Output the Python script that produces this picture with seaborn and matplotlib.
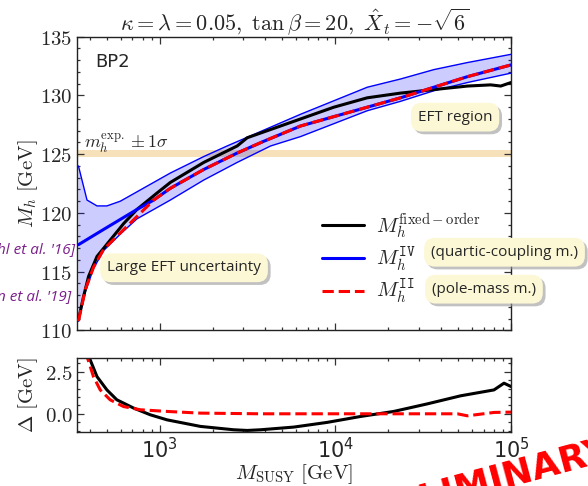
import numpy as np
import pandas as pd
import matplotlib
matplotlib.use("Agg")
import matplotlib.pyplot as plt
import matplotlib.patheffects as pe
from matplotlib.lines import Line2D
from matplotlib.ticker import FuncFormatter, MultipleLocator, LogLocator, NullFormatter
import seaborn as sns

# ---- values ----
m_fo = [345, 369, 394, 440, 524, 624, 743, 967, 1151, 1782, 2762, 3150, 6340, 9800,
        15200, 23500, 36400, 56500, 76600, 87400, 100000]
mh_fo = [110.9, 112.9, 114.6, 116.3, 117.7, 119.1, 120.3, 121.7, 122.6, 124.3, 125.7,
         126.4, 128.0, 129.0, 129.8, 130.2, 130.5, 130.8, 130.9, 130.8, 131.1]

m_ii = [345, 378, 421, 480, 597, 743, 925, 1151, 1782, 2762, 3915, 6340, 15200, 23500,
        36400, 56500, 100000]
mh_ii = [110.8, 113.5, 115.4, 116.9, 118.3, 119.7, 121.1, 122.1, 123.7, 125.1, 126.1,
         127.4, 129.0, 129.8, 130.7, 131.6, 132.6]

m_iv = [345, 480, 743, 925, 1151, 1782, 2762, 3915, 6340, 15200, 23500, 36400, 56500, 100000]
mh_iv = [117.3, 118.6, 120.3, 121.1, 122.1, 123.7, 125.1, 126.1, 127.4, 129.0, 129.8,
         130.7, 131.6, 132.6]

m_band_up = [345, 386, 440, 501, 597, 743, 1151, 1782, 2420, 6340, 15200, 23500, 36400,
             56500, 100000]
mh_band_up = [124.0, 121.1, 120.6, 120.6, 121.0, 121.8, 123.4, 124.8, 125.7, 128.4, 130.7,
              131.4, 132.2, 132.8, 133.5]

m_band_lo = [345, 378, 421, 480, 597, 743, 925, 1151, 1782, 2762, 4280, 6340, 15200, 23500,
             36400, 56500, 100000]
mh_band_lo = [110.8, 113.3, 115.3, 116.8, 118.2, 119.5, 120.3, 121.1, 122.8, 124.3, 125.7,
              126.5, 128.7, 129.5, 130.4, 131.1, 131.9]

# lower panel: Delta [GeV]
m_d_fo = [345, 399, 440, 501, 571, 711, 885, 1102, 1706, 2640, 3150, 3750, 5800, 9000,
          13900, 21500, 33400, 51700, 80000, 91200, 100000]
d_fo = [4.8, 3.3, 2.21, 1.42, 0.83, 0.34, -0.06, -0.36, -0.75, -0.95, -0.99, -0.95, -0.79,
        -0.51, -0.16, 0.14, 0.59, 1.07, 1.42, 1.82, 1.62]

m_d_ii = [345, 389, 420, 459, 523, 623, 776, 1102, 1706, 3750, 49500, 56400, 80000, 100000]
d_ii = [4.6, 3.3, 2.21, 1.42, 0.83, 0.43, 0.24, 0.14, 0.04, 0.0, 0.0, -0.12, 0.08, 0.1]

mh_exp_lo, mh_exp_hi = 124.8, 125.4

title = r"$\kappa = \lambda = 0.05,\ \tan\beta = 20,\ \hat{X}_t = -\sqrt{6}$"

# ---- style ----
sns.set_theme(style="ticks")
plt.rcParams["font.family"] = ["DejaVu Sans"]
plt.rcParams["mathtext.fontset"] = "cm"

fig = plt.figure(figsize=(5.88, 4.86), dpi=100)
ax1 = fig.add_axes([0.1315, 0.320, 0.7376, 0.6045])
ax2 = fig.add_axes([0.1315, 0.1105, 0.7376, 0.1523], sharex=ax1)

# uncertainty band of the quartic-coupling matching
band_x = np.r_[m_band_up, m_band_lo[::-1]]
band_y = np.r_[mh_band_up, mh_band_lo[::-1]]
ax1.fill(band_x, band_y, color="blue", alpha=0.2, lw=0, zorder=1)
sns.lineplot(x=m_band_up, y=mh_band_up, ax=ax1, color="blue", lw=1.0, estimator=None,
             sort=False, zorder=2)
sns.lineplot(x=m_band_lo, y=mh_band_lo, ax=ax1, color="blue", lw=1.0, estimator=None,
             sort=False, zorder=2)

ax1.axhspan(mh_exp_lo, mh_exp_hi, color="wheat", alpha=0.9, lw=0, zorder=0)
ax1.text(370, 125.5, r"$m_h^{\rm exp.} \pm 1\sigma$", fontsize=13, va="baseline", zorder=3)

sns.lineplot(x=m_fo, y=mh_fo, ax=ax1, color="black", lw=2.2, estimator=None, sort=False, zorder=3)
sns.lineplot(x=m_iv, y=mh_iv, ax=ax1, color="blue", lw=2.2, estimator=None, sort=False, zorder=4)
sns.lineplot(x=m_ii, y=mh_ii, ax=ax1, color="red", lw=2.2, ls="--", estimator=None,
             sort=False, zorder=5)

sns.lineplot(x=m_d_fo, y=d_fo, ax=ax2, color="black", lw=2.2, estimator=None, sort=False)
sns.lineplot(x=m_d_ii, y=d_ii, ax=ax2, color="red", lw=2.2, ls="--", estimator=None, sort=False)

for ax in (ax1, ax2):
    ax.set_xscale("log")
    ax.set_xlim(340, 1e5)
    ax.tick_params(which="both", direction="in", top=True, right=True, labelsize=15,
                   width=0.9, color="#333333")
    ax.tick_params(which="major", length=5)
    ax.tick_params(which="minor", length=2.5)
    ax.xaxis.set_major_locator(LogLocator(base=10))
    ax.xaxis.set_minor_locator(LogLocator(base=10, subs=np.arange(2, 10)))
    ax.xaxis.set_minor_formatter(NullFormatter())
    for s in ax.spines.values():
        s.set_linewidth(1.0)
        s.set_color("#222222")

ax1.set_ylim(110, 135)
ax1.yaxis.set_major_locator(MultipleLocator(5))
ax1.yaxis.set_minor_locator(MultipleLocator(1))
ax1.yaxis.set_major_formatter(FuncFormatter(lambda v, p: rf"${v:.0f}$"))
ax1.tick_params(axis="x", labelbottom=False)
ax1.set_xlabel("")
ax1.set_ylabel(r"$M_h\ [\mathrm{GeV}]$", fontsize=15)
ax1.yaxis.set_label_coords(-0.085, 0.5)
ax1.set_title(title, fontsize=16, pad=5)
ax1.text(0.041, 0.915, "BP2", transform=ax1.transAxes, fontsize=13, va="center")

ax2.set_ylim(-1.1, 3.3)
ax2.yaxis.set_major_locator(MultipleLocator(2.5))
ax2.yaxis.set_minor_locator(MultipleLocator(0.5))
ax2.yaxis.set_major_formatter(FuncFormatter(lambda v, p: rf"${v:.1f}$"))
ax2.set_ylabel(r"$\Delta\ [\mathrm{GeV}]$", fontsize=15)
ax2.yaxis.set_label_coords(-0.085, 0.5)
ax2.set_xlabel(r"$M_{\mathrm{SUSY}}\ [\mathrm{GeV}]$", fontsize=15, labelpad=0)

handles = [Line2D([], [], color="black", lw=2.2),
           Line2D([], [], color="blue", lw=2.2),
           Line2D([], [], color="red", lw=2.2, ls="--")]
labels = [r"$M_h^{\mathrm{fixed-order}}$", r"$M_h^{\mathtt{IV}}$", r"$M_h^{\mathtt{II}}$"]
ax1.legend(handles, labels, loc="upper left", bbox_to_anchor=(0.545, 0.435), frameon=False,
           fontsize=15, handlelength=2.0, handletextpad=0.6, labelspacing=0.22,
           borderaxespad=0)

# slide call-outs
shadow = [pe.withSimplePatchShadow(offset=(2, -2), shadow_rgbFace="#999999", alpha=0.6)]
box = dict(boxstyle="round,pad=0.45,rounding_size=0.7", fc="#fcf8d6", ec="none")
for txt, x, y in [("EFT region", 0.774, 0.759),
                  ("Large EFT uncertainty", 0.313, 0.449),
                  ("(quartic-coupling m.)", 0.858, 0.481),
                  ("(pole-mass m.)", 0.823, 0.405)]:
    t = fig.text(x, y, txt, fontsize=11, family=["Open Sans", "DejaVu Sans"], ha="center",
                 va="center", bbox=box, zorder=10)
    t.get_bbox_patch().set_path_effects(shadow)

# cropped slide fragments
fig.text(0.128, 0.486, "hl et al. '16]", color="#7b1e8c", style="italic", fontsize=11,
         family=["Open Sans", "DejaVu Sans"], ha="right", va="center")
fig.text(0.122, 0.389, "n et al. '19]", color="#7b1e8c", style="italic", fontsize=11,
         family=["Open Sans", "DejaVu Sans"], ha="right", va="center")
fig.text(1.045, -0.105, "PRELIMINARY", color="red", fontsize=26, fontweight="bold",
         rotation=15, ha="right", va="bottom")

fig.savefig("out.png", dpi=100)
